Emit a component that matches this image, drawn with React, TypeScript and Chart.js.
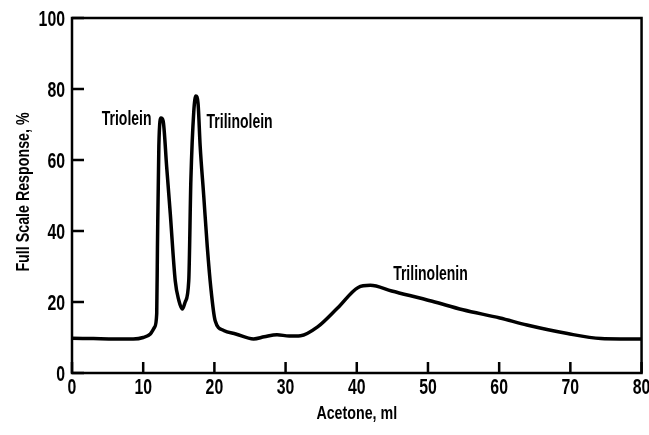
import React, { useEffect, useRef } from "react";
import { Chart, registerables } from "chart.js";

Chart.register(...registerables);

const acetoneMl = [0, 3, 6, 8.6, 10, 11, 11.6, 11.9, 12.0, 12.2, 12.5, 12.8, 13.3, 13.8, 14.5, 15.0, 15.5, 15.9, 16.4, 16.7, 17.1, 17.4, 17.7, 18.0, 18.5, 19.0, 19.5, 20.1, 21.3, 23, 25.5, 27, 28.8, 30.5, 32.1, 34.5, 37.3, 40.2, 41.9, 44.9, 50.6, 54.9, 60.1, 63.9, 69.6, 74.3, 77, 80];
const responsePct = [9.8, 9.7, 9.6, 9.6, 10, 11, 12.9, 16.7, 35, 64, 71.8, 71, 58, 45, 26, 20.5, 18, 20, 26, 54.5, 73.5, 78, 76, 64, 50, 35.6, 24, 14.8, 12, 11, 9.6, 10.2, 10.8, 10.4, 10.5, 13, 18.3, 24.1, 24.7, 23.1, 20.2, 17.8, 15.5, 13.5, 11.1, 9.7, 9.6, 9.6];

const xTicks = [0, 10, 20, 30, 40, 50, 60, 70, 80];
const yTicks = [0, 20, 40, 60, 80, 100];

const peakLabels = ["Triolein", "Trilinolein", "Trilinolenin"];
const peakLabelX = [11.17, 18.9, 50.35];
const peakLabelY = [69.9, 69.0, 26.2];
const peakLabelAlign = ["right", "left", "center"];

const xTitle = "Acetone, ml";
const yTitle = "Full Scale Response, %";

const FONT = "'Liberation Sans', Arial, sans-serif";
const CLEAR = "rgba(0,0,0,0)";

function drawText(ctx: CanvasRenderingContext2D, text: string, x: number, y: number, size: number, align: CanvasTextAlign, sx: number, rotate = false) {
  ctx.save();
  ctx.translate(x, y);
  if (rotate) ctx.rotate(-Math.PI / 2);
  ctx.scale(sx, 1);
  ctx.font = `bold ${size}px ${FONT}`;
  ctx.textAlign = align;
  ctx.textBaseline = "alphabetic";
  ctx.fillStyle = "#000";
  ctx.fillText(text, 0, 0);
  ctx.restore();
}

const framePlugin = {
  id: "frameAndText",
  afterDraw(chart: any) {
    const { ctx, chartArea } = chart;
    const xs = chart.scales.x;
    const ys = chart.scales.y;
    const L = chartArea.left, R = chartArea.right, T = chartArea.top, B = chartArea.bottom;
    ctx.save();
    ctx.strokeStyle = "#000";
    ctx.lineWidth = 2.5;
    ctx.strokeRect(L, T, R - L, B - T);
    ctx.beginPath();
    xTicks.forEach((v) => {
      const px = xs.getPixelForValue(v);
      ctx.moveTo(px, B);
      ctx.lineTo(px, B - 11);
    });
    yTicks.forEach((v) => {
      const py = ys.getPixelForValue(v);
      ctx.moveTo(L, py);
      ctx.lineTo(L + 12, py);
    });
    ctx.stroke();
    ctx.restore();

    xTicks.forEach((v) => {
      drawText(ctx, String(v), xs.getPixelForValue(v), B + 21, 22, "center", 0.72);
    });
    yTicks.forEach((v) => {
      drawText(ctx, String(v), L - 7, ys.getPixelForValue(v) + 8, 22, "right", 0.72);
    });
    drawText(ctx, xTitle, (L + R) / 2, B + 46, 19, "center", 0.75);
    drawText(ctx, yTitle, 29, 192, 19, "center", 0.75, true);
    peakLabels.forEach((lab, i) => {
      drawText(ctx, lab, xs.getPixelForValue(peakLabelX[i]), ys.getPixelForValue(peakLabelY[i]), 20, peakLabelAlign[i] as CanvasTextAlign, 0.7);
    });
  },
};

export default function App() {
  const ref = useRef<HTMLCanvasElement>(null);
  useEffect(() => {
    document.body.style.margin = "0";
    const chart = new Chart(ref.current!, {
      type: "line",
      data: {
        datasets: [
          {
            data: acetoneMl.map((x, i) => ({ x, y: responsePct[i] })),
            borderColor: "#000",
            borderWidth: 3.5,
            pointRadius: 0,
            cubicInterpolationMode: "monotone",
            fill: false,
          },
        ],
      },
      options: {
        responsive: false,
        animation: false,
        layout: { padding: { top: 18, right: 7, bottom: 0, left: 0 } },
        plugins: { legend: { display: false }, tooltip: { enabled: false } },
        scales: {
          x: {
            type: "linear",
            min: 0,
            max: 80,
            grid: { display: false },
            border: { display: false },
            afterFit: (s: any) => { s.height = 62; },
            ticks: { stepSize: 10, color: CLEAR, font: { size: 8 } },
            title: { display: true, text: xTitle, color: CLEAR, font: { size: 8 } },
          },
          y: {
            min: 0,
            max: 100,
            grid: { display: false },
            border: { display: false },
            afterFit: (s: any) => { s.width = 72; },
            ticks: { stepSize: 20, color: CLEAR, font: { size: 8 } },
            title: { display: true, text: yTitle, color: CLEAR, font: { size: 8 } },
          },
        },
      },
      plugins: [framePlugin],
    } as any);
    return () => chart.destroy();
  }, []);
  return (
    <div style={{ width: 649, height: 435 }}>
      <canvas ref={ref} width={649} height={435} style={{ width: 649, height: 435 }} />
    </div>
  );
}
